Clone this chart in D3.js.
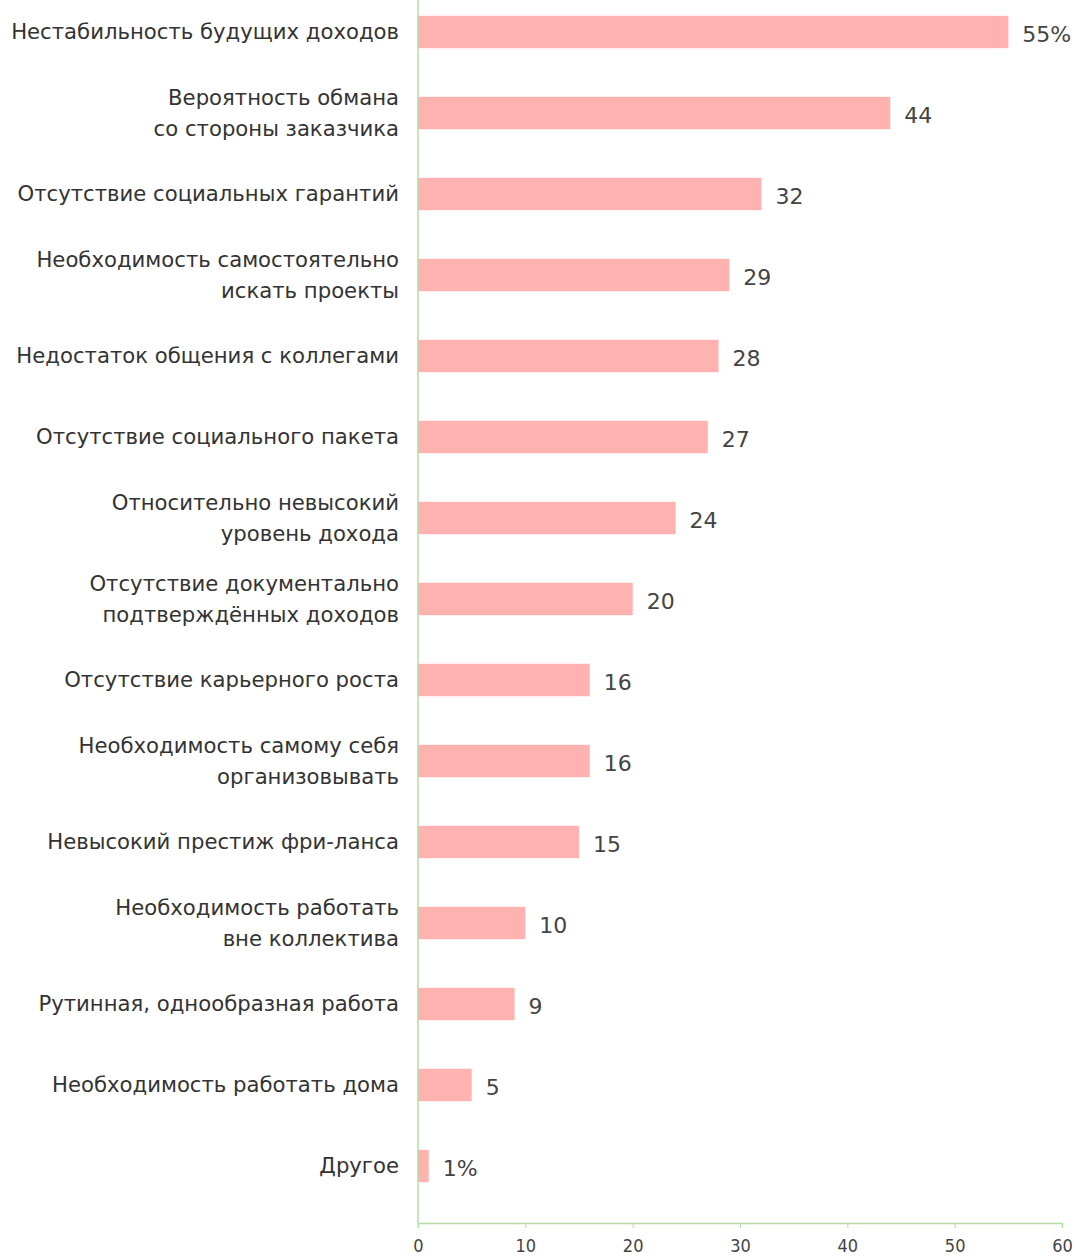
<!DOCTYPE html>
<html><head><meta charset="utf-8">
<script src="https://cdn.jsdelivr.net/npm/d3@7"></script>
<style>body{margin:0;background:#fff;} svg{display:block;}</style>
</head><body>
<svg id="c" width="1079" height="1257"></svg>
<script>
const categories = [
  ["Нестабильность будущих доходов"],
  ["Вероятность обмана", "со стороны заказчика"],
  ["Отсутствие социальных гарантий"],
  ["Необходимость самостоятельно", "искать проекты"],
  ["Недостаток общения с коллегами"],
  ["Отсутствие социального пакета"],
  ["Относительно невысокий", "уровень дохода"],
  ["Отсутствие документально", "подтверждённых доходов"],
  ["Отсутствие карьерного роста"],
  ["Необходимость самому себя", "организовывать"],
  ["Невысокий престиж фри-ланса"],
  ["Необходимость работать", "вне коллектива"],
  ["Рутинная, однообразная работа"],
  ["Необходимость работать дома"],
  ["Другое"]
];
const values = [55, 44, 32, 29, 28, 27, 24, 20, 16, 16, 15, 10, 9, 5, 1];
const valueLabels = ["55%", "44", "32", "29", "28", "27", "24", "20", "16", "16", "15", "10", "9", "5", "1%"];
const xTicks = [0, 10, 20, 30, 40, 50, 60];

const svg = d3.select("#c");
const font = "'DejaVu Sans', Verdana, sans-serif";
const x = d3.scaleLinear().domain([0, 60]).range([418, 1062]);
const y = d3.scaleBand().domain(d3.range(categories.length)).range([-8.5, 1206.5]).paddingInner(0.6).paddingOuter(0.3);

// bars
svg.append("g").selectAll("rect").data(values).join("rect")
  .attr("x", x(0)).attr("y", (d, i) => y(i))
  .attr("width", d => x(d) - x(0)).attr("height", y.bandwidth())
  .attr("fill", "#ffb2af");

// value labels
svg.append("g").selectAll("text").data(values).join("text")
  .attr("x", d => x(d) + 14).attr("y", (d, i) => y(i) + y.bandwidth() / 2 + 10)
  .attr("font-family", font).attr("font-size", 22).attr("fill", "#444")
  .text((d, i) => valueLabels[i]);

// category labels
const lab = svg.append("g").selectAll("text").data(categories).join("text")
  .attr("text-anchor", "end").attr("font-family", font).attr("font-size", 21.2).attr("fill", "#333")
  .attr("transform", (d, i) => `translate(399, ${y(i) + y.bandwidth() / 2})`);
lab.each(function(lines) {
  const t = d3.select(this);
  const lh = 31;
  const start = -(lines.length - 1) * lh / 2 + 7;
  lines.forEach((l, k) => t.append("tspan").attr("x", 0).attr("y", start + k * lh).text(l));
});

// y axis line
svg.append("line").attr("x1", 418).attr("x2", 418).attr("y1", 0).attr("y2", 1223)
  .attr("stroke", "#b5dba5").attr("stroke-width", 1.5);

// x axis
const xa = svg.append("g").attr("transform", "translate(0,1223)")
  .call(d3.axisBottom(x).tickValues(xTicks).tickSize(5).tickPadding(11));
xa.select(".domain").attr("stroke", "#b5dba5").attr("stroke-width", 1.5);
xa.selectAll(".tick line").attr("stroke", "#b5dba5");
xa.selectAll(".tick text").attr("font-family", "'Liberation Sans Narrow', 'DejaVu Sans Condensed', sans-serif")
  .attr("font-size", 18).attr("fill", "#444");
</script>
</body></html>
